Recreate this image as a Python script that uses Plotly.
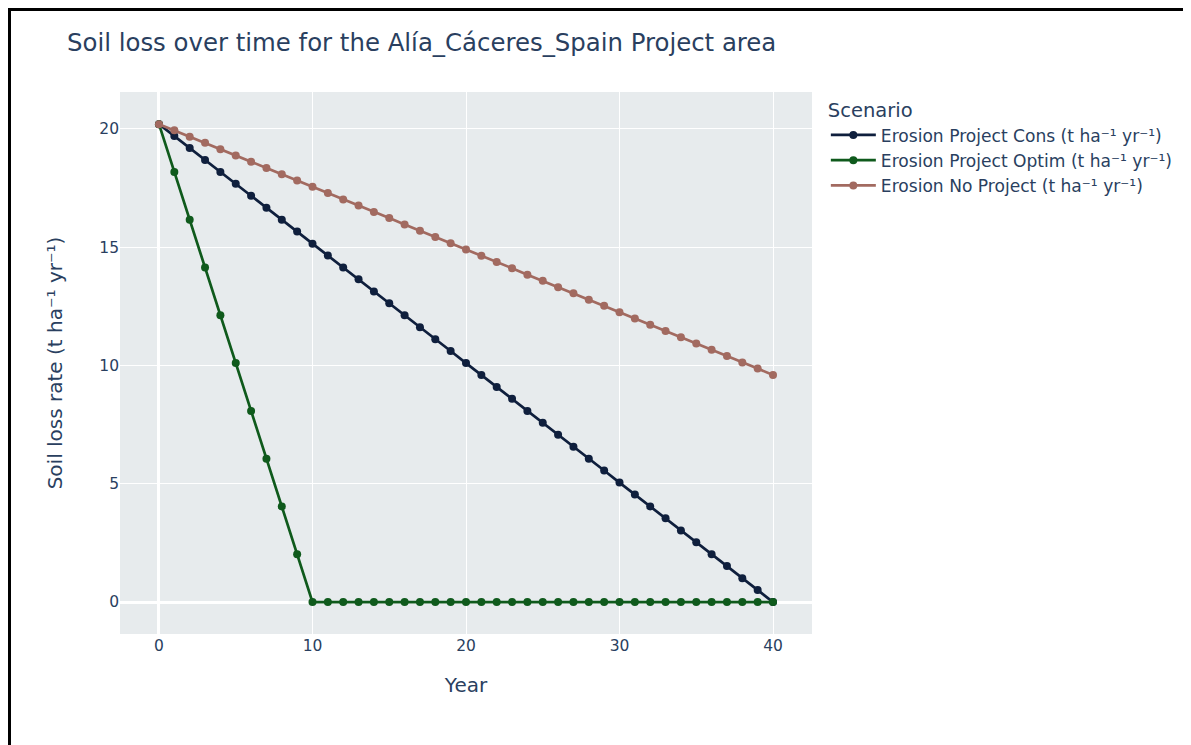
import plotly.graph_objects as go

years = list(range(41))

erosion_cons = [20.20, 19.70, 19.19, 18.69, 18.18, 17.68, 17.17, 16.67, 16.16, 15.66,
                15.15, 14.65, 14.14, 13.64, 13.13, 12.63, 12.12, 11.62, 11.11, 10.61,
                10.10, 9.60, 9.09, 8.59, 8.08, 7.58, 7.07, 6.57, 6.06, 5.56,
                5.05, 4.55, 4.04, 3.54, 3.03, 2.53, 2.02, 1.52, 1.01, 0.51, 0.00]

erosion_optim = [20.20, 18.18, 16.16, 14.14, 12.12, 10.10, 8.08, 6.06, 4.04, 2.02,
                 0.00, 0.00, 0.00, 0.00, 0.00, 0.00, 0.00, 0.00, 0.00, 0.00,
                 0.00, 0.00, 0.00, 0.00, 0.00, 0.00, 0.00, 0.00, 0.00, 0.00,
                 0.00, 0.00, 0.00, 0.00, 0.00, 0.00, 0.00, 0.00, 0.00, 0.00, 0.00]

erosion_noproj = [20.20, 19.94, 19.67, 19.41, 19.14, 18.88, 18.61, 18.35, 18.08, 17.82,
                  17.55, 17.29, 17.02, 16.76, 16.49, 16.23, 15.96, 15.70, 15.43, 15.17,
                  14.90, 14.64, 14.37, 14.11, 13.84, 13.58, 13.31, 13.05, 12.78, 12.52,
                  12.25, 11.99, 11.72, 11.46, 11.19, 10.93, 10.66, 10.40, 10.13, 9.87, 9.60]

series_names = ["Erosion Project Cons (t ha⁻¹ yr⁻¹)",
                "Erosion Project Optim (t ha⁻¹ yr⁻¹)",
                "Erosion No Project (t ha⁻¹ yr⁻¹)"]
series_values = [erosion_cons, erosion_optim, erosion_noproj]
series_colors = ["#0f1f3d", "#0f5a1c", "#a26a60"]

fig = go.Figure()
for name, vals, col in zip(series_names, series_values, series_colors):
    fig.add_trace(go.Scatter(x=years, y=vals, mode="lines+markers", name=name,
                             line=dict(color=col, width=2.7),
                             marker=dict(color=col, size=8)))

font_color = "#2a3f5f"
L, T, PW, PH = 112, 84, 692, 542
fig.update_layout(
    width=1191, height=745,
    margin=dict(l=L, r=1191 - L - PW, t=T, b=745 - T - PH),
    paper_bgcolor="white",
    plot_bgcolor="#E7EBED",
    font=dict(family='Verdana, "DejaVu Sans", sans-serif', color=font_color, size=15.5),
    title=dict(text="Soil loss over time for the Alía_Cáceres_Spain Project area",
               x=59/1191, xanchor="left", y=1-34/745, yanchor="middle",
               font=dict(size=24.4, color=font_color)),
    legend=dict(title=dict(text="Scenario", font=dict(size=19.5)), font=dict(size=17.1),
                x=1.02, y=1, xanchor="left", yanchor="top", itemwidth=45),
    xaxis=dict(title=dict(text="Year", font=dict(size=20), standoff=24), range=[-2.54, 42.54],
               tickvals=[0, 10, 20, 30, 40], gridcolor="white", gridwidth=1.3,
               zeroline=True, zerolinecolor="white", zerolinewidth=2.5,
               showline=False, ticks=""),
    yaxis=dict(title=dict(text="Soil loss rate (t ha⁻¹ yr⁻¹)", font=dict(size=20), standoff=31),
               range=[-1.35, 21.56], tickvals=[0, 5, 10, 15, 20],
               gridcolor="white", gridwidth=1.3,
               zeroline=True, zerolinecolor="white", zerolinewidth=2.5,
               showline=False, ticks=""),
    shapes=[dict(type="rect", xref="paper", yref="paper",
                 x0=(1.5 - L) / PW, x1=1.8, y0=-0.5, y1=(T + PH - 1.5) / PH,
                 line=dict(color="black", width=3), fillcolor="rgba(0,0,0,0)", layer="above")],
)

fig.write_html("out.html")
